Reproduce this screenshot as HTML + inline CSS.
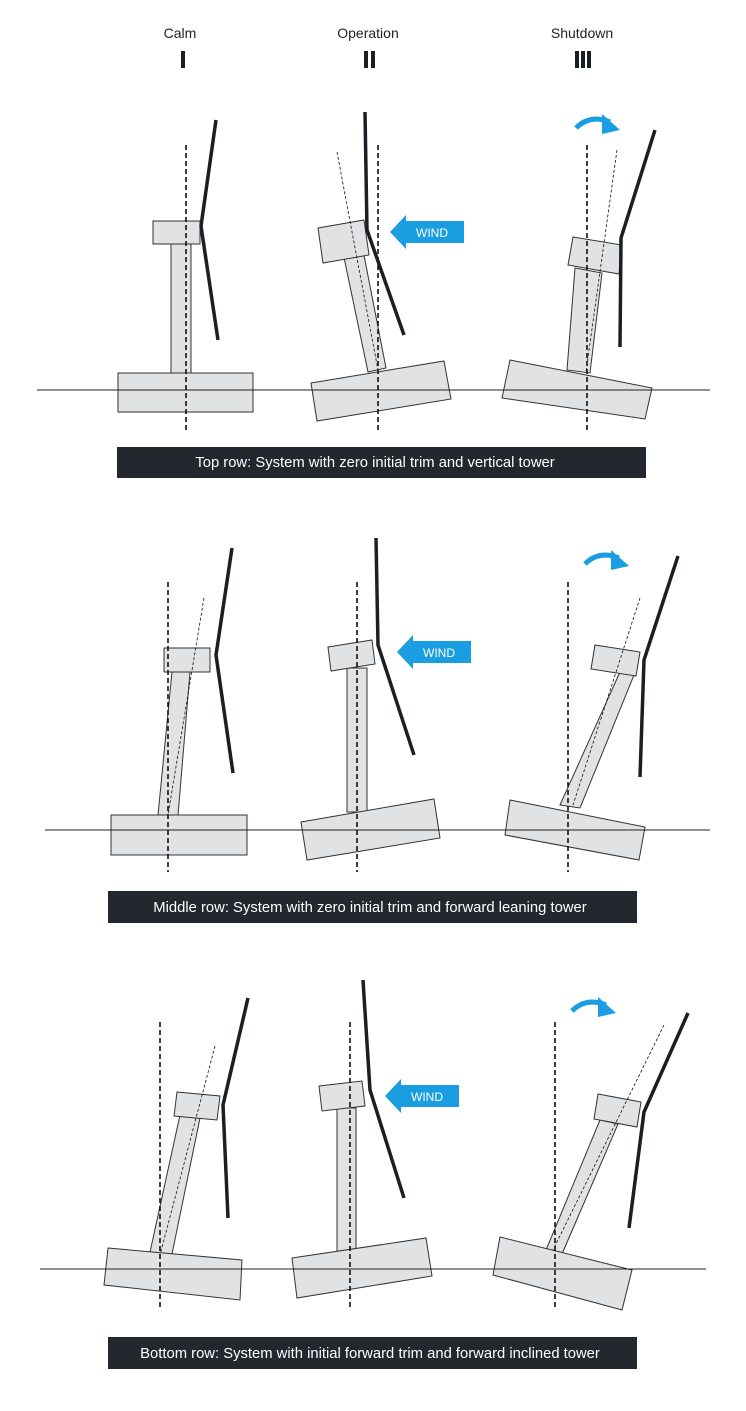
<!DOCTYPE html>
<html><head><meta charset="utf-8"><style>
html,body{margin:0;padding:0;background:#fff}
svg{display:block}
text{font-family:"Liberation Sans",sans-serif}
</style></head><body>
<svg width="746" height="1411" viewBox="0 0 746 1411" xmlns="http://www.w3.org/2000/svg">
<defs>
<g id="carr"><path d="M0,8 Q14,-6 34,2" fill="none" stroke="#1b9de2" stroke-width="5"/><polygon points="26,-6 44,10 26,14" fill="#1b9de2"/></g>
<g id="wind"><polygon points="0,0 16,-17 16,-11 74,-11 74,11 16,11 16,17" fill="#1b9de2"/><text x="26" y="5" font-size="12" fill="#fff">WIND</text></g>
</defs>
<g font-size="14" fill="#222" text-anchor="middle">
<text x="180" y="38">Calm</text><text x="368" y="38">Operation</text><text x="582" y="38">Shutdown</text>
</g>
<g fill="#1a1f26">
<rect x="181" y="51" width="4" height="17"/>
<rect x="364" y="51" width="4" height="17"/><rect x="371" y="51" width="4" height="17"/>
<rect x="575" y="51" width="4" height="17"/><rect x="581" y="51" width="4" height="17"/><rect x="587" y="51" width="4" height="17"/>
</g>
<g fill="#e1e2e4" stroke="#333" stroke-width="1">
<rect x="118" y="373" width="135" height="39"/>
<rect x="171" y="244" width="20" height="129"/>
<rect x="153" y="221" width="47" height="23"/>
<polygon points="342,248 362,245 386,368 368,372"/>
<polygon points="311,383 444,361 451,399 317,421"/>
<polygon points="318,228 364,220 369,255 323,263"/>
<polygon points="575,268 602,273 590,373 567,370"/>
<polygon points="510,360 652,388 645,419 502,398"/>
<polygon points="573,237 622,245 619,274 568,265"/>
<polygon points="158,815 178,815 190,672 172,672"/>
<rect x="111" y="815" width="136" height="40"/>
<rect x="164" y="648" width="46" height="24"/>
<rect x="347" y="668" width="20" height="144"/>
<polygon points="301,822 434,799 440,838 307,860"/>
<polygon points="328,647 372,640 375,664 331,671"/>
<polygon points="560,805 580,808 634,675 620,672"/>
<polygon points="510,800 645,827 639,860 505,835"/>
<polygon points="595,645 640,652 636,676 591,669"/>
<polygon points="150,1252 172,1254 200,1118 180,1115"/>
<polygon points="108,1248 242,1260 240,1300 104,1285"/>
<polygon points="177,1092 220,1096 217,1120 174,1116"/>
<rect x="337" y="1108" width="19" height="144"/>
<polygon points="292,1258 426,1238 432,1276 297,1298"/>
<polygon points="319,1086 362,1081 365,1106 322,1111"/>
<polygon points="546,1250 562,1254 618,1124 600,1120"/>
<polygon points="500,1237 632,1270 622,1310 493,1275"/>
<polygon points="598,1094 641,1102 637,1127 594,1119"/>
</g>
<g stroke="#222" stroke-width="1">
<line x1="37" y1="390" x2="710" y2="390"/>
<line x1="45" y1="830" x2="710" y2="830"/>
<line x1="40" y1="1269" x2="706" y2="1269"/>
</g>
<g stroke="#111" stroke-width="1.6" stroke-dasharray="5,3" fill="none">
<line x1="186" y1="145" x2="186" y2="432"/><line x1="378" y1="145" x2="378" y2="432"/><line x1="587" y1="145" x2="587" y2="432"/>
<line x1="168" y1="582" x2="168" y2="872"/><line x1="357" y1="582" x2="357" y2="872"/><line x1="568" y1="582" x2="568" y2="872"/>
<line x1="160" y1="1022" x2="160" y2="1310"/><line x1="350" y1="1022" x2="350" y2="1310"/><line x1="555" y1="1022" x2="555" y2="1310"/>
</g>
<g stroke="#111" stroke-width="0.8" stroke-dasharray="3,2" fill="none">
<line x1="337" y1="152" x2="378" y2="370"/>
<line x1="617" y1="150" x2="586" y2="372"/>
<line x1="204" y1="598" x2="168" y2="815"/>
<line x1="640" y1="598" x2="573" y2="805"/>
<line x1="215" y1="1046" x2="160" y2="1255"/>
<line x1="664" y1="1025" x2="553" y2="1250"/>
</g>
<g stroke="#1a1f26" stroke-width="3.5" fill="none" stroke-linejoin="miter">
<polyline points="216,120 201,226 218,340"/>
<polyline points="365,112 367,230 404,335"/>
<polyline points="655,130 621,238 620,347"/>
<polyline points="232,548 216,655 233,773"/>
<polyline points="376,538 378,645 414,755"/>
<polyline points="678,556 644,660 640,777"/>
<polyline points="248,998 223,1105 228,1218"/>
<polyline points="363,980 370,1090 404,1198"/>
<polyline points="688,1013 644,1112 629,1228"/>
</g>
<use href="#wind" x="390" y="232"/>
<use href="#wind" x="397" y="652"/>
<use href="#wind" x="385" y="1096"/>
<use href="#carr" x="576" y="120"/>
<use href="#carr" x="585" y="556"/>
<use href="#carr" x="572" y="1003"/>
<g fill="#23272e">
<rect x="117" y="447" width="529" height="31"/>
<rect x="108" y="891" width="529" height="32"/>
<rect x="108" y="1337" width="529" height="32"/>
</g>
<g fill="#fff" font-size="14.8" text-anchor="middle">
<text x="375" y="467">Top row: System with zero initial trim and vertical tower</text>
<text x="370" y="912">Middle row: System with zero initial trim and forward leaning tower</text>
<text x="370" y="1358">Bottom row: System with initial forward trim and forward inclined tower</text>
</g>
</svg>
</body></html>
